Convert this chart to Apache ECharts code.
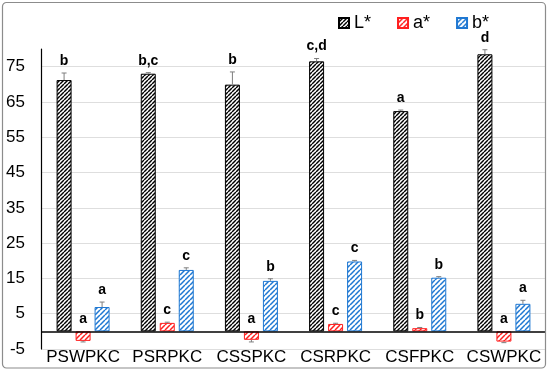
<!DOCTYPE html>
<html>
<head>
<meta charset="utf-8">
<script src="https://cdn.jsdelivr.net/npm/echarts@6/dist/echarts.min.js"></script>
<style>html,body{margin:0;padding:0;background:#fff}#c{width:550px;height:372px}</style>
</head>
<body>
<div id="c"></div>
<script>
const categories = ['PSWPKC','PSRPKC','CSSPKC','CSRPKC','CSFPKC','CSWPKC'];
const seriesNames = ['L*','a*','b*'];
const lValues = [71.2, 73.0, 69.9, 76.5, 62.4, 78.5];
const aValues = [-2.7, 2.4, -2.4, 2.1, 0.9, -2.9];
const bValues = [6.9, 17.4, 14.3, 19.8, 15.2, 7.8];
const lErrors = [2.0, 0.3, 3.6, 0.8, 0.3, 1.3];
const aErrors = [0.3, 0.2, 0.6, 0.2, 0.2, 0.3];
const bErrors = [1.4, 0.6, 0.6, 0.3, 0.3, 1.0];
const lLetters = ['b','b,c','b','c,d','a','d'];
const aLetters = ['a','c','a','c','b','a'];
const bLetters = ['a','c','b','c','b','a'];
const yTicks = [-5, 5, 15, 25, 35, 45, 55, 65, 75];

const FONT = '"Liberation Sans", Arial, sans-serif';
const BAR_W = 15, BAR_GAP = 4;
const colors = ['#000000', '#ff1f1f', '#1f78d2'];

function hatch(color, s, lw) {
  const c = document.createElement('canvas');
  c.width = s; c.height = s;
  const ctx = c.getContext('2d');
  ctx.fillStyle = '#fff'; ctx.fillRect(0, 0, s, s);
  ctx.strokeStyle = color; ctx.lineWidth = lw;
  ctx.beginPath();
  for (const k of [-s, 0, s]) { ctx.moveTo(k, s); ctx.lineTo(k + s, 0); }
  ctx.stroke();
  return c;
}
const patterns = [hatch('#000', 4, 1.45), hatch('#ff1f1f', 5, 1.5), hatch('#1f78d2', 5, 1.5)];

const values = [lValues, aValues, bValues];
const errors = [lErrors, aErrors, bErrors];
const letters = [lLetters, aLetters, bLetters];

function errSeries(si) {
  return {
    type: 'custom', z: 10, silent: true, clip: false,
    data: categories.map((c, i) => [i, values[si][i]]),
    renderItem: function (params, api) {
      const i = params.dataIndex;
      const v = values[si][i], e = errors[si][i];
      const center = api.coord([i, v]);
      const x = center[0] + (si - 1) * (BAR_W + BAR_GAP);
      const y0 = center[1];
      const yEnd = api.coord([i, v >= 0 ? v + e : v - e])[1];
      const zeroY = api.coord([i, 0])[1];
      const labelY = (v >= 0 ? yEnd : zeroY) - 5;
      return {
        type: 'group',
        children: [
          { type: 'line', shape: { x1: x, y1: y0, x2: x, y2: yEnd }, style: { stroke: '#7f7f7f', lineWidth: 1 } },
          { type: 'line', shape: { x1: x - 2.5, y1: yEnd, x2: x + 2.5, y2: yEnd }, style: { stroke: '#7f7f7f', lineWidth: 1 } },
          { type: 'text', style: { text: letters[si][i], x: x, y: labelY, align: 'center', verticalAlign: 'bottom',
              font: 'bold 14px ' + FONT, fill: '#000' } }
        ]
      };
    }
  };
}

const chart = echarts.init(document.getElementById('c'), null, { renderer: 'canvas' });
const barSeries = seriesNames.map((n, si) => {
  const s = {
    name: n, type: 'bar', barWidth: BAR_W, barGap: (BAR_GAP / BAR_W * 100) + '%',
    data: values[si],
    itemStyle: { color: { image: patterns[si], repeat: 'repeat' }, borderColor: colors[si], borderWidth: 1 },
    emphasis: { disabled: true }
  };
  if (si === 0) {
    s.markLine = { silent: true, symbol: 'none', label: { show: false },
      lineStyle: { color: '#000', width: 1.5, type: 'solid' }, data: [{ yAxis: 0 }] };
  }
  return s;
});

chart.setOption({
  animation: false,
  backgroundColor: '#fff',
  graphic: [{ type: 'rect', shape: { x: 2.5, y: 2.5, width: 543, height: 365.5, r: 4 },
    style: { fill: 'none', stroke: '#8c8c8c', lineWidth: 1.2 }, z: 100, silent: true }],
  legend: {
    data: seriesNames, left: 333, top: 9, icon: 'rect', itemWidth: 10, itemHeight: 10, itemGap: 26,
    textStyle: { fontSize: 18, fontFamily: FONT, color: '#000' }
  },
  grid: { left: 41, right: 4, top: 49, bottom: 23 },
  xAxis: {
    type: 'category', data: categories,
    axisLine: { show: false, onZero: false }, axisTick: { show: false },
    axisLabel: { interval: 0, fontSize: 17, fontFamily: FONT, color: '#000', margin: 0 }
  },
  yAxis: {
    type: 'value', min: yTicks[0], max: 80, interval: 10,
    axisLine: { show: true, lineStyle: { color: '#000', width: 1.2 } },
    axisTick: { show: false },
    axisLabel: { fontSize: 17, fontFamily: FONT, color: '#000', margin: 16, showMaxLabel: false },
    splitLine: { show: true, showMaxLine: false, lineStyle: { color: '#dedede', width: 1 } }
  },
  series: barSeries.concat([0, 1, 2].map(errSeries))
});
</script>
</body>
</html>
